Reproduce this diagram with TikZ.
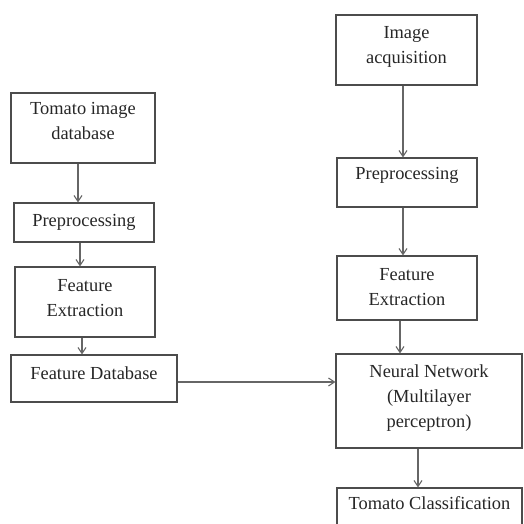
\documentclass[tikz,border=0pt]{standalone}
\usepackage{fontspec}
\setmainfont{Liberation Serif}
\usetikzlibrary{arrows.meta}
\begin{document}
\begin{tikzpicture}[x=1pt,y=-1pt,
  box/.style={draw=black!70,line width=1.1pt,inner sep=0pt,minimum width=#1},
  txt/.style={font=\fontsize{18.4}{25}\selectfont,text=black!85,align=center,inner sep=0pt,anchor=center},
  arr/.style={draw=black!60,line width=1.1pt,-{Straight Barb[length=6pt,width=8pt]}}]
\useasboundingbox (0,0) rectangle (523,524);
% boxes (drawn as rectangles with named nodes)
\node[box=144pt,minimum height=70pt] (td) at (83,128) {};
\node[box=140pt,minimum height=39pt] (pl) at (84,222.5) {};
\node[box=140pt,minimum height=70pt] (fel) at (85,302) {};
\node[box=166pt,minimum height=47pt] (fd) at (94,378.5) {};
\node[box=141pt,minimum height=70pt] (ia) at (406.5,50) {};
\node[box=140pt,minimum height=49pt] (pr) at (407,182.5) {};
\node[box=140pt,minimum height=64pt] (fer) at (407,288) {};
\node[box=186pt,minimum height=94pt] (nn) at (429,401) {};
\node[box=185pt,minimum height=50pt] (tc) at (429.5,513) {};
% texts
\node[txt] at (83,121) {Tomato image\\database};
\node[txt] at (84,222) {Preprocessing};
\node[txt] at (85,298.5) {Feature\\Extraction};
\node[txt] at (94,373) {Feature Database};
\node[txt] at (406.5,46.5) {Image\\acquisition};
\node[txt] at (407,175) {Preprocessing};
\node[txt] at (407,287.5) {Feature\\Extraction};
\node[txt] at (429,398) {Neural Network\\(Multilayer\\perceptron)};
\node[txt] at (429.5,503) {Tomato Classification};
% connector guides
\coordinate (c1) at (78,0);
\coordinate (c2) at (80,0);
\coordinate (c3) at (82,0);
\coordinate (c4) at (0,382);
\coordinate (c5) at (403,0);
\coordinate (c6) at (400,0);
\coordinate (c7) at (418,0);
\draw[arr] (td.south -| c1) -- (pl.north -| c1);
\draw[arr] (pl.south -| c2) -- (fel.north -| c2);
\draw[arr] (fel.south -| c3) -- (fd.north -| c3);
\draw[arr] (fd.east |- c4) -- (nn.west |- c4);
\draw[arr] (ia.south -| c5) -- (pr.north -| c5);
\draw[arr] (pr.south -| c5) -- (fer.north -| c5);
\draw[arr] (fer.south -| c6) -- (nn.north -| c6);
\draw[arr] (nn.south -| c7) -- (tc.north -| c7);
\end{tikzpicture}
\end{document}
